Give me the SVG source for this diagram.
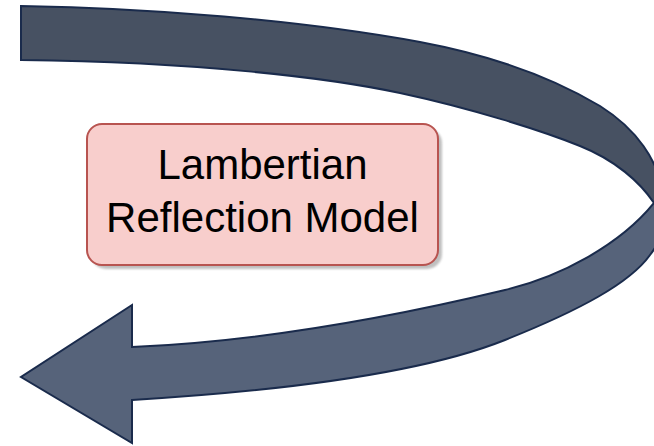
<svg xmlns="http://www.w3.org/2000/svg" width="654" height="446" viewBox="0 0 654 446">
  <style>
    .arrow { stroke: #1a2b4c; stroke-width: 2; stroke-linejoin: miter; }
    .box { fill: #f8cecc; stroke: #b85450; stroke-width: 2; }
    .shadow { fill: #8c8c8c; opacity: 0.55; }
    .label { font-family: "Liberation Sans", Arial, sans-serif; font-size: 42px; fill: #000000; text-anchor: middle; }
  </style>
  <defs>
    <linearGradient id="bandFill" gradientUnits="userSpaceOnUse" x1="0" y1="0" x2="0" y2="446">
      <stop offset="0" stop-color="#475162"/>
      <stop offset="0.455" stop-color="#475162"/>
      <stop offset="0.455" stop-color="#56637a"/>
      <stop offset="1" stop-color="#56637a"/>
    </linearGradient>
    <filter id="blur" x="-10%" y="-10%" width="120%" height="120%">
      <feGaussianBlur stdDeviation="1.2"/>
    </filter>
  </defs>
  <g id="connectors">
    <path id="curved-arrow" class="arrow" fill="url(#bandFill)" d="M21,6 C150,8 300,20 420,42 C500,57 560,82 600,106 C635,128 660,160 664,200 C668,222 665,235 650,255 C630,283 580,310 505,340 C440,366 330,388 132,400 L132,443 L21,377 L132,305 L132,347 C250,342 380,320 505,290 C560,277 620,245 654,203 C640,182 615,160 580,146 C540,130 470,108 400,93 C330,78 200,62 21,60 Z"/>
  </g>
  <g id="node-lambertian">
    <rect class="shadow" x="91" y="128" width="351" height="141" rx="15" ry="15" filter="url(#blur)"/>
    <rect class="box" x="87" y="124" width="351" height="141" rx="15" ry="15"/>
    <text class="label" x="262.5" y="179">Lambertian</text>
    <text class="label" x="262.5" y="232">Reflection Model</text>
  </g>
</svg>
